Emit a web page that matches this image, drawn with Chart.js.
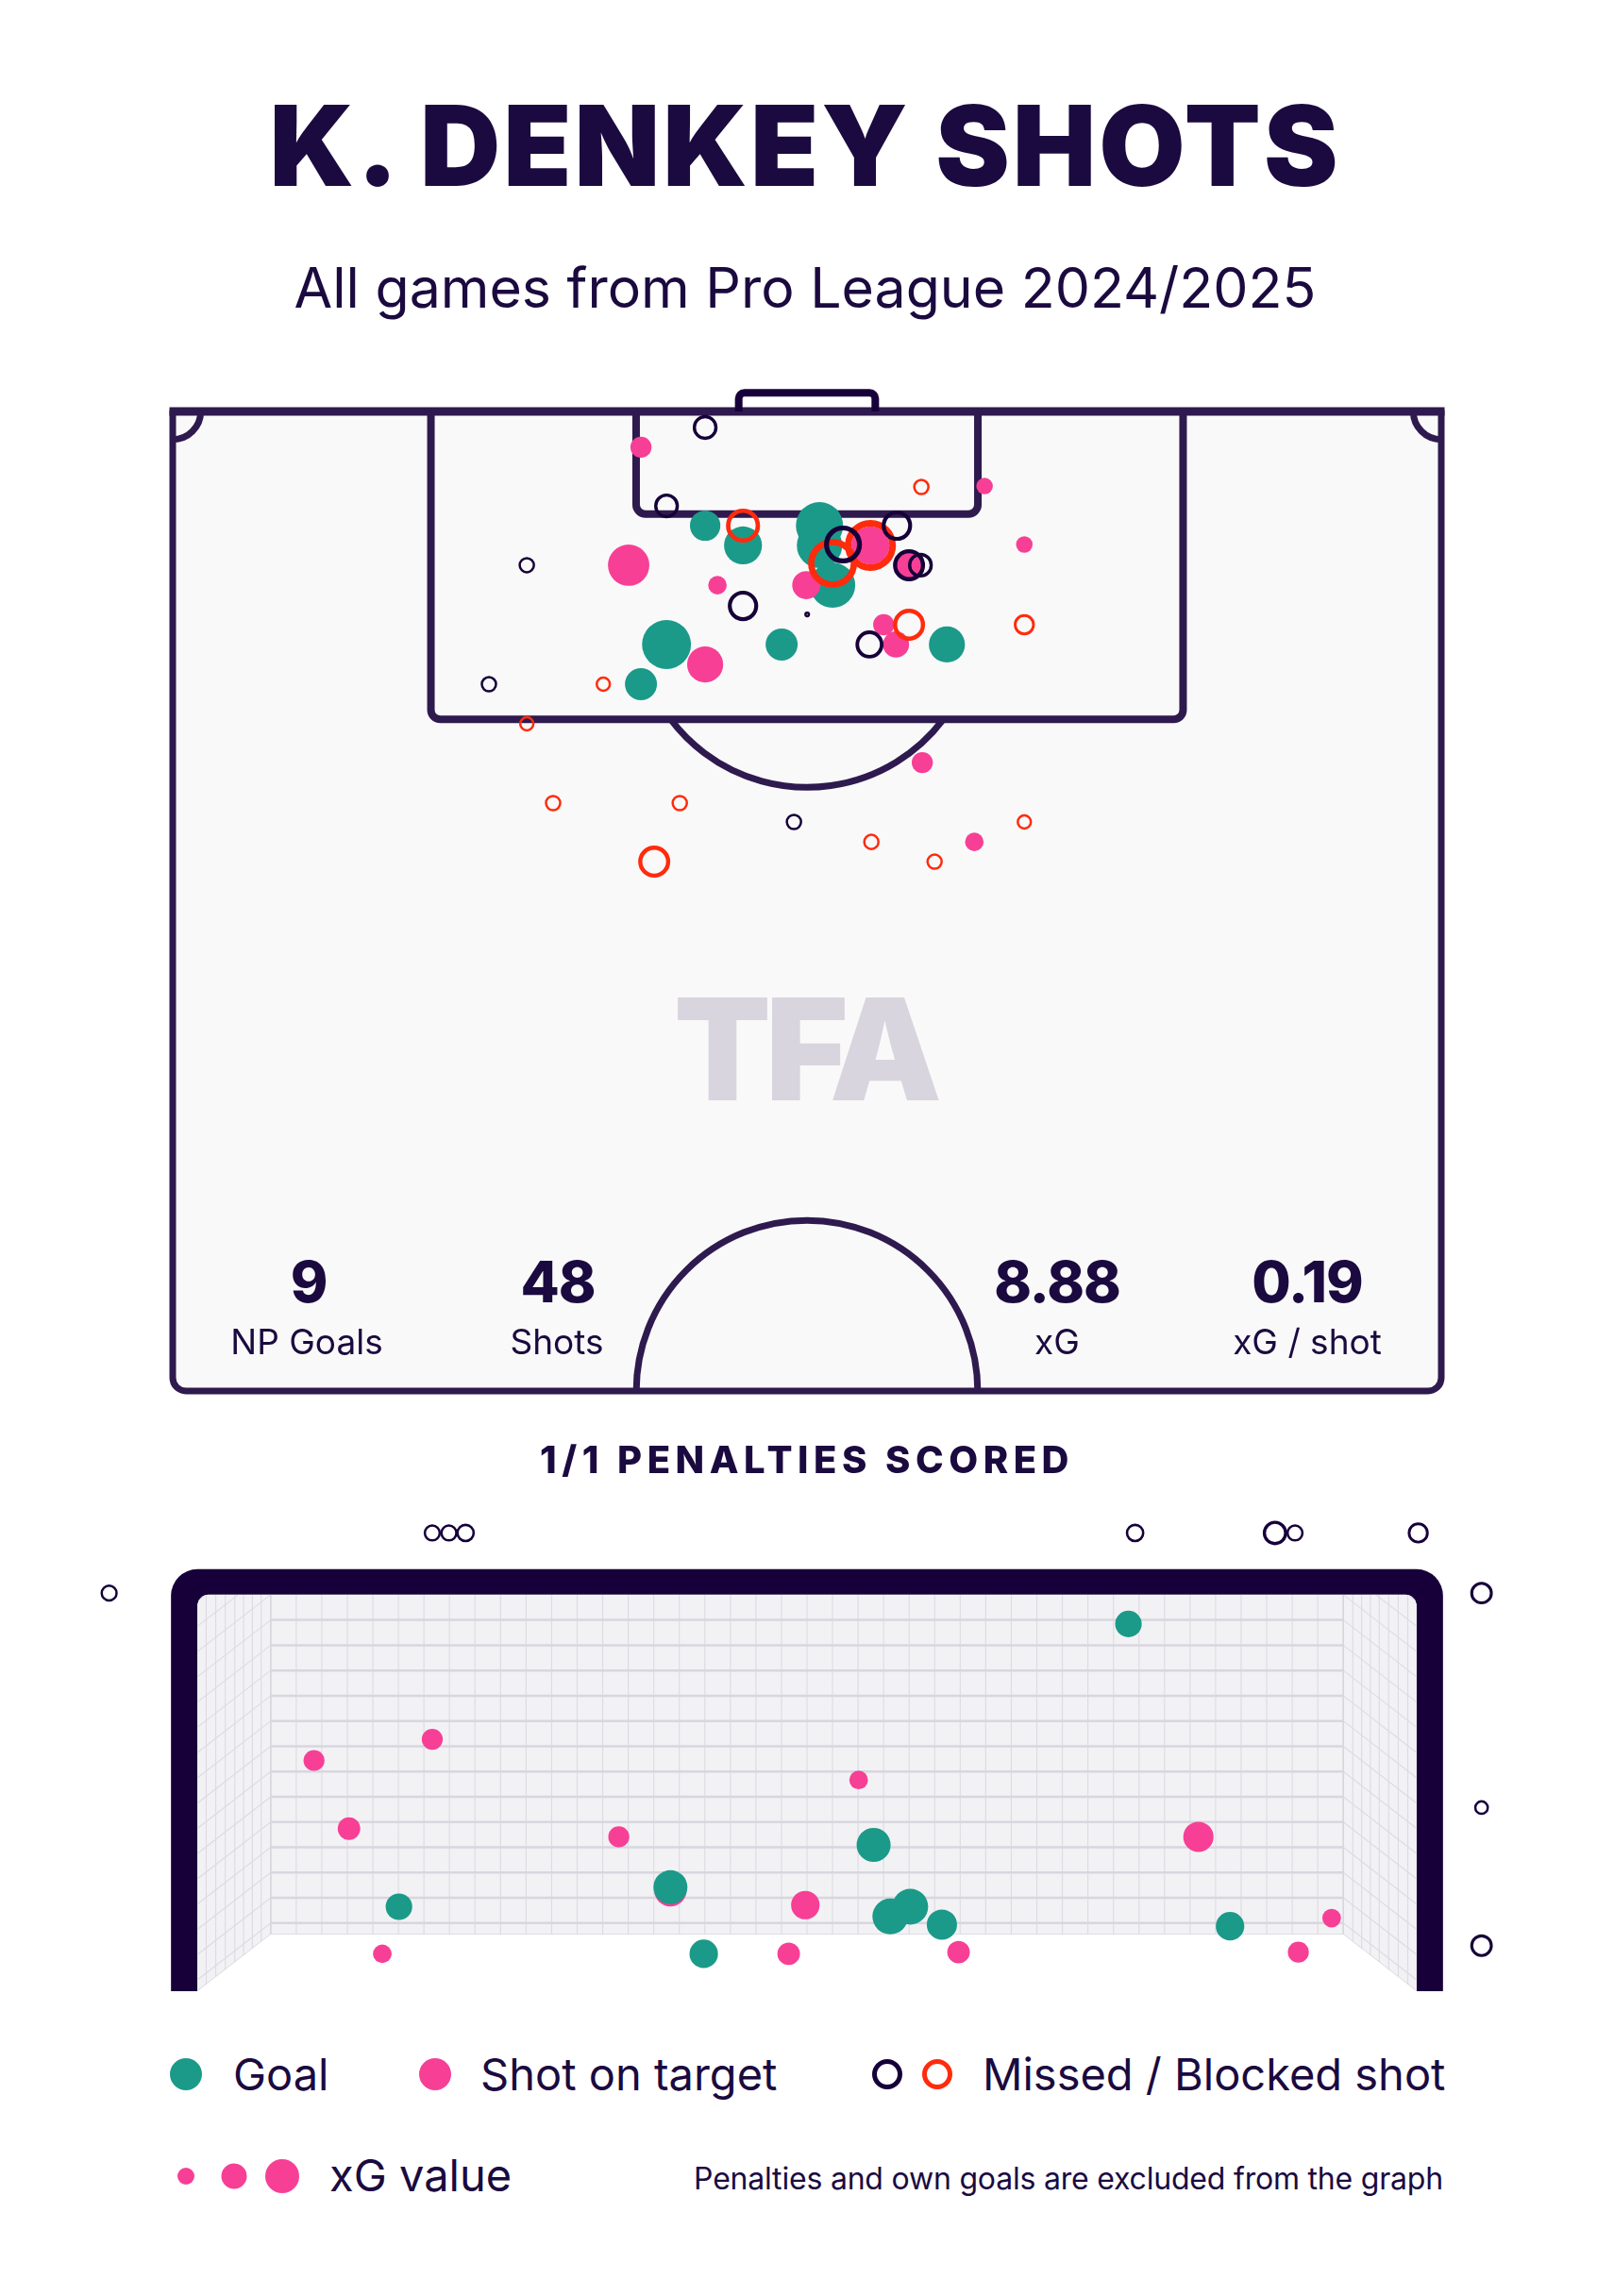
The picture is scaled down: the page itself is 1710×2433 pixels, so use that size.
<!DOCTYPE html>
<html lang="en">
<head>
  <meta charset="UTF-8" />
  <title>K. Denkey shots</title>
  <script src="https://cdn.jsdelivr.net/npm/chart.js@4.4.1/dist/chart.umd.min.js"></script>
  <style>
    body { margin: 0; background: #fff; }
    #page {
      position: relative; width: 1710px; height: 2433px; overflow: hidden;
      font-family: 'Inter', 'Noto Sans', sans-serif; color: #1b0a3f;
    }
    #page canvas { position: absolute; }
    .txt { position: absolute; white-space: nowrap; line-height: 1; }
    .c { transform: translate(-50%, -50%); }
    .l { transform: translate(0, -50%); }
    .r { transform: translate(-100%, -50%); }
    h1 { margin: 0; font-weight: 900; font-size: 118px; letter-spacing: 3px; }
    .sub { font-size: 59px; font-weight: 400; }
    .num { font-size: 60px; font-weight: 800; letter-spacing: -1px; }
    .lab { font-size: 37px; }
    .pens { font-size: 40px; font-weight: 800; letter-spacing: 5.5px; }
    .leg { font-size: 47px; }
    .note { font-size: 32px; letter-spacing: -0.2px; }
    .dot { position: absolute; border-radius: 50%; transform: translate(-50%, -50%); box-sizing: border-box; }
    .wm { font-size: 150px; font-weight: 900; color: #d8d5de; letter-spacing: -6px; }
  </style>
</head>
<body>
<div id="page">
  <canvas id="pitch" width="1410" height="1110" style="left:150px; top:400px;"></canvas>
  <canvas id="goal" width="1590" height="570" style="left:60px; top:1570px;"></canvas>

  <div class="txt c" style="left:853px; top:154px;"><h1>K. DENKEY SHOTS</h1></div>
  <div class="txt c sub" style="left:853px; top:304px;">All games from Pro League 2024/2025</div>

  <div class="txt c wm" style="left:853px; top:1112px;">TFA</div>

  <div class="txt c num" style="left:327px; top:1358px;">9</div>
  <div class="txt c lab" style="left:325px; top:1421px;">NP Goals</div>
  <div class="txt c num" style="left:591px; top:1358px;">48</div>
  <div class="txt c lab" style="left:590px; top:1421px;">Shots</div>
  <div class="txt c num" style="left:1120px; top:1358px;">8.88</div>
  <div class="txt c lab" style="left:1120px; top:1421px;">xG</div>
  <div class="txt c num" style="left:1385px; top:1358px;">0.19</div>
  <div class="txt c lab" style="left:1385px; top:1421px;">xG / shot</div>

  <div class="txt c pens" style="left:855px; top:1547px;">1/1 PENALTIES SCORED</div>

  <div class="dot" style="left:197px; top:2198px; width:34px; height:34px; background:#1b9a89;"></div>
  <div class="txt l leg" style="left:247px; top:2197px;">Goal</div>
  <div class="dot" style="left:461px; top:2198px; width:34px; height:34px; background:#f73f96;"></div>
  <div class="txt l leg" style="left:509px; top:2197px;">Shot on target</div>
  <div class="dot" style="left:940px; top:2198px; width:32px; height:32px; border:5px solid #160039;"></div>
  <div class="dot" style="left:993px; top:2198px; width:32px; height:32px; border:5px solid #ff2b0d;"></div>
  <div class="txt l leg" style="left:1041px; top:2197px;">Missed / Blocked shot</div>

  <div class="dot" style="left:197px; top:2306px; width:18px; height:18px; background:#f73f96;"></div>
  <div class="dot" style="left:248px; top:2306px; width:27px; height:27px; background:#f73f96;"></div>
  <div class="dot" style="left:299px; top:2306px; width:36px; height:36px; background:#f73f96;"></div>
  <div class="txt l leg" style="left:349px; top:2304px;">xG value</div>
  <div class="txt r note" style="left:1529px; top:2309px;">Penalties and own goals are excluded from the graph</div>
</div>

<script>
  // shot map: metres across the pitch (0-68) and from the goal line (0-52.5)
  const pitchX = [28.54, 25.10, 40.13, 43.52, 26.47, 28.54, 30.57, 30.57, 34.67, 35.93,
                  34.67, 35.37, 37.40, 37.40, 38.82, 39.47, 40.08, 39.47, 24.44, 29.20,
                  30.57, 34.01, 33.96, 35.37, 38.11, 39.47, 37.35, 38.77, 41.50, 26.47,
                  28.54, 32.64, 25.10, 23.08, 45.65, 18.98, 16.95, 45.65, 18.98, 40.18,
                  20.39, 27.18, 33.30, 45.65, 37.45, 42.97, 40.84, 25.81];
  const pitchY = [0.86, 1.92, 4.05, 4.00, 5.06, 6.12, 6.12, 7.18, 6.12, 7.13,
                  7.18, 8.14, 7.18, 7.18, 6.12, 8.24, 8.24, 8.24, 8.24, 9.31,
                  10.42, 10.88, 9.31, 9.31, 11.43, 11.43, 12.49, 12.49, 12.49, 12.49,
                  13.56, 12.49, 14.62, 14.62, 7.13, 8.24, 14.62, 11.43, 16.74, 18.82,
                  20.99, 20.99, 22.00, 22.00, 23.07, 23.07, 24.13, 24.13];
  const pitchXg = [0.18, 0.13, 0.08, 0.08, 0.18, 0.27, 0.34, 0.42, 0.65, 0.42,
                   0.60, 0.70, 0.76, 0.42, 0.27, 0.30, 0.18, 0.18, 0.50, 0.10,
                   0.27, 0.01, 0.23, 0.60, 0.13, 0.30, 0.23, 0.20, 0.38, 0.70,
                   0.38, 0.30, 0.30, 0.07, 0.08, 0.08, 0.08, 0.13, 0.07, 0.13,
                   0.08, 0.08, 0.08, 0.07, 0.08, 0.10, 0.08, 0.30];
  // G goal, S saved (on target), M missed, B blocked
  const pitchType = ['M','S','B','S','M','G','B','G','G','M',
                     'G','B','B','S','M','M','M','S','S','S',
                     'M','M','S','G','S','B','M','S','G','G',
                     'S','G','G','B','S','M','M','B','B','S',
                     'B','B','M','B','B','S','B','B'];

  // goal mouth view: metres from left post (0-7.32) and height (0-2.44)
  const goalX = [1.41, 1.51, 1.61, 5.63, 6.47, 6.59, 7.33, -0.53, 7.71, 7.71, 7.71,
                 5.59, 1.41, 0.70, 3.97, 0.91, 2.53, 4.06, 6.01, 2.84, 2.84, 1.21,
                 3.65, 4.28, 4.16, 4.47, 6.20, 6.81, 1.11, 3.04, 3.55, 4.57, 6.61];
  const goalY = [2.82, 2.82, 2.82, 2.82, 2.82, 2.82, 2.82, 2.45, 2.45, 1.13, 0.28,
                 2.26, 1.55, 1.42, 1.30, 1.00, 0.95, 0.90, 0.95, 0.64, 0.62, 0.52,
                 0.53, 0.52, 0.46, 0.41, 0.40, 0.45, 0.23, 0.23, 0.23, 0.24, 0.24];
  const goalXg = [0.08, 0.08, 0.10, 0.10, 0.21, 0.08, 0.14, 0.08, 0.17, 0.05, 0.17,
                  0.26, 0.14, 0.14, 0.10, 0.17, 0.14, 0.48, 0.36, 0.48, 0.42, 0.26,
                  0.31, 0.54, 0.54, 0.36, 0.31, 0.10, 0.10, 0.31, 0.17, 0.17, 0.14];
  const goalType = ['M','M','M','M','M','M','M','M','M','M','M',
                    'G','S','S','S','S','S','G','S','G','S','G',
                    'S','G','G','G','G','S','S','G','S','S','S'];

  const colors = { G: '#1b9a89', S: '#f73f96', M: '#160039', B: '#ff2b0d' };
  const lineCol = '#2e1a4e';
  const frameCol = '#17003a';

  const pitchR = xg => 31 * Math.sqrt(xg);
  const goalR = xg => 3 + 21.7 * Math.sqrt(xg);

  function makeSet(xs, ys, xgs, types, type, sizeFn) {
    const data = [];
    types.forEach((t, i) => { if (t === type) data.push({ x: xs[i], y: ys[i], xg: xgs[i] }); });
    const filled = type === 'G' || type === 'S';
    const bw = c => Math.max(2.5, sizeFn(c.raw.xg) * 0.26);
    return {
      data: data,
      clip: false,
      pointRadius: c => filled ? sizeFn(c.raw.xg) : Math.max(1.5, sizeFn(c.raw.xg) - bw(c) / 2),
      pointHoverRadius: c => filled ? sizeFn(c.raw.xg) : Math.max(1.5, sizeFn(c.raw.xg) - bw(c) / 2),
      pointBorderWidth: c => filled ? 0 : bw(c),
      pointHoverBorderWidth: c => filled ? 0 : bw(c),
      pointBackgroundColor: filled ? colors[type] : 'rgba(0,0,0,0)',
      pointBorderColor: colors[type]
    };
  }

  const pitchLines = {
    id: 'pitchLines',
    beforeDatasetsDraw(chart) {
      const { ctx, scales: { x, y } } = chart;
      const X = v => x.getPixelForValue(v), Y = v => y.getPixelForValue(v);
      const m = X(1) - X(0);
      ctx.save();
      ctx.lineJoin = 'round';
      // turf
      ctx.fillStyle = '#f9f9f9';
      ctx.beginPath();
      ctx.roundRect(X(0), Y(0), X(68) - X(0), Y(52.5) - Y(0), [0, 0, 14, 14]);
      ctx.fill();
      ctx.strokeStyle = lineCol;
      ctx.lineWidth = 7;
      // penalty arc and centre circle
      const a = Math.asin(5.5 / 9.15);
      ctx.beginPath(); ctx.arc(X(34), Y(11), 9.15 * m, a, Math.PI - a); ctx.stroke();
      ctx.beginPath(); ctx.arc(X(34), Y(52.5), 9.15 * m, Math.PI, 2 * Math.PI); ctx.stroke();
      // corner arcs
      ctx.beginPath(); ctx.arc(X(0), Y(0), 1.5 * m, 0, Math.PI / 2); ctx.stroke();
      ctx.beginPath(); ctx.arc(X(68), Y(0), 1.5 * m, Math.PI / 2, Math.PI); ctx.stroke();
      // boxes
      ctx.lineWidth = 8;
      ctx.beginPath(); ctx.roundRect(X(13.84), Y(0), X(54.16) - X(13.84), Y(16.5) - Y(0), [0, 0, 10, 10]); ctx.stroke();
      ctx.beginPath(); ctx.roundRect(X(24.84), Y(0), X(43.16) - X(24.84), Y(5.5) - Y(0), [0, 0, 10, 10]); ctx.stroke();
      // outline
      ctx.lineWidth = 7;
      ctx.beginPath(); ctx.roundRect(X(0), Y(0), X(68) - X(0), Y(52.5) - Y(0), [0, 0, 14, 14]); ctx.stroke();
      ctx.lineWidth = 9;
      ctx.beginPath(); ctx.moveTo(X(0) - 3.5, Y(0)); ctx.lineTo(X(68) + 3.5, Y(0)); ctx.stroke();
      // goal
      ctx.strokeStyle = frameCol;
      ctx.lineWidth = 8;
      ctx.beginPath();
      ctx.moveTo(X(30.34), Y(0));
      ctx.lineTo(X(30.34), Y(-1.0) + 6);
      ctx.arcTo(X(30.34), Y(-1.0), X(31), Y(-1.0), 6);
      ctx.lineTo(X(37.66) - 6, Y(-1.0));
      ctx.arcTo(X(37.66), Y(-1.0), X(37.66), Y(0), 6);
      ctx.lineTo(X(37.66), Y(0));
      ctx.stroke();
      ctx.restore();
    }
  };

  const goalFrame = {
    id: 'goalFrame',
    beforeDatasetsDraw(chart) {
      const { ctx, scales: { x, y } } = chart;
      const L = x.getPixelForValue(0), R = x.getPixelForValue(7.32);
      const T = y.getPixelForValue(2.44), G = y.getPixelForValue(0);
      const bL = x.getPixelForValue(0.44), bR = x.getPixelForValue(7.32 - 0.44);
      const bB = y.getPixelForValue(0.35);
      const drop = G - bB;
      ctx.save();
      // frame
      ctx.fillStyle = frameCol;
      ctx.beginPath(); ctx.roundRect(L - 28, T - 27, R - L + 56, G - T + 27, [28, 28, 0, 0]); ctx.fill();
      ctx.fillStyle = '#ffffff';
      ctx.beginPath(); ctx.roundRect(L, T, R - L, G - T + 2, [12, 12, 0, 0]); ctx.fill();
      ctx.clip();
      // net
      ctx.beginPath();
      ctx.moveTo(L, T); ctx.lineTo(R, T); ctx.lineTo(R, G); ctx.lineTo(bR, bB);
      ctx.lineTo(bL, bB); ctx.lineTo(L, G); ctx.closePath();
      ctx.fillStyle = '#f2f2f5';
      ctx.fill();
      ctx.clip();
      const step = (bB - T) / 13.45;
      // side nets
      ctx.strokeStyle = '#dedce3';
      ctx.lineWidth = 1.2;
      for (let k = -3; k <= 14; k++) {
        const yk = T + k * step;
        ctx.beginPath(); ctx.moveTo(bL, yk); ctx.lineTo(L, yk + drop); ctx.stroke();
        ctx.beginPath(); ctx.moveTo(bR, yk); ctx.lineTo(R, yk + drop); ctx.stroke();
      }
      [0.12, 0.25, 0.38, 0.51, 0.63, 0.75, 0.87].forEach(f => {
        ctx.beginPath(); ctx.moveTo(L + (bL - L) * f, T); ctx.lineTo(L + (bL - L) * f, G); ctx.stroke();
        ctx.beginPath(); ctx.moveTo(R - (R - bR) * f, T); ctx.lineTo(R - (R - bR) * f, G); ctx.stroke();
      });
      // back net
      const cols = 42;
      for (let i = 0; i <= cols; i++) {
        const xi = bL + (bR - bL) * i / cols;
        ctx.beginPath(); ctx.moveTo(xi, T); ctx.lineTo(xi, bB); ctx.stroke();
      }
      ctx.strokeStyle = '#d8d6de';
      ctx.lineWidth = 2.5;
      for (let k = 1; k <= 13; k++) {
        ctx.beginPath(); ctx.moveTo(bL, T + k * step); ctx.lineTo(bR, T + k * step); ctx.stroke();
      }
      ctx.lineWidth = 1.5;
      ctx.beginPath(); ctx.moveTo(bL, T); ctx.lineTo(bL, bB); ctx.lineTo(bR, bB); ctx.lineTo(bR, T); ctx.stroke();
      ctx.beginPath(); ctx.moveTo(bL, bB); ctx.lineTo(L, G); ctx.moveTo(bR, bB); ctx.lineTo(R, G); ctx.stroke();
      ctx.restore();
    }
  };

  const common = {
    responsive: false,
    animation: false,
    devicePixelRatio: 1,
    events: [],
    plugins: { legend: { display: false }, tooltip: { enabled: false } }
  };

  new Chart(document.getElementById('pitch'), {
    type: 'scatter',
    data: {
      datasets: ['M', 'B', 'S', 'G'].map(t => makeSet(pitchX, pitchY, pitchXg, pitchType, t, pitchR))
    },
    options: Object.assign({}, common, {
      layout: { autoPadding: false, padding: { left: 33, right: 33, top: 36, bottom: 36 } },
      scales: {
        x: { type: 'linear', min: 0, max: 68, display: false },
        y: { type: 'linear', min: 0, max: 52.5, reverse: true, display: false }
      }
    }),
    plugins: [pitchLines]
  });

  // goal view: the plot area extends beyond the posts and bar so that off-target shots show
  new Chart(document.getElementById('goal'), {
    type: 'scatter',
    data: {
      datasets: ['M', 'G', 'S'].map(t => makeSet(goalX, goalY, goalXg, goalType, t, goalR))
    },
    options: Object.assign({}, common, {
      layout: { autoPadding: false, padding: { left: 8, right: 8, top: 20, bottom: 30 } },
      scales: {
        x: { type: 'linear', min: -0.8, max: 8.12, display: false },
        y: { type: 'linear', min: 0, max: 3.02, display: false }
      }
    }),
    plugins: [goalFrame]
  });
</script>
</body>
</html>
